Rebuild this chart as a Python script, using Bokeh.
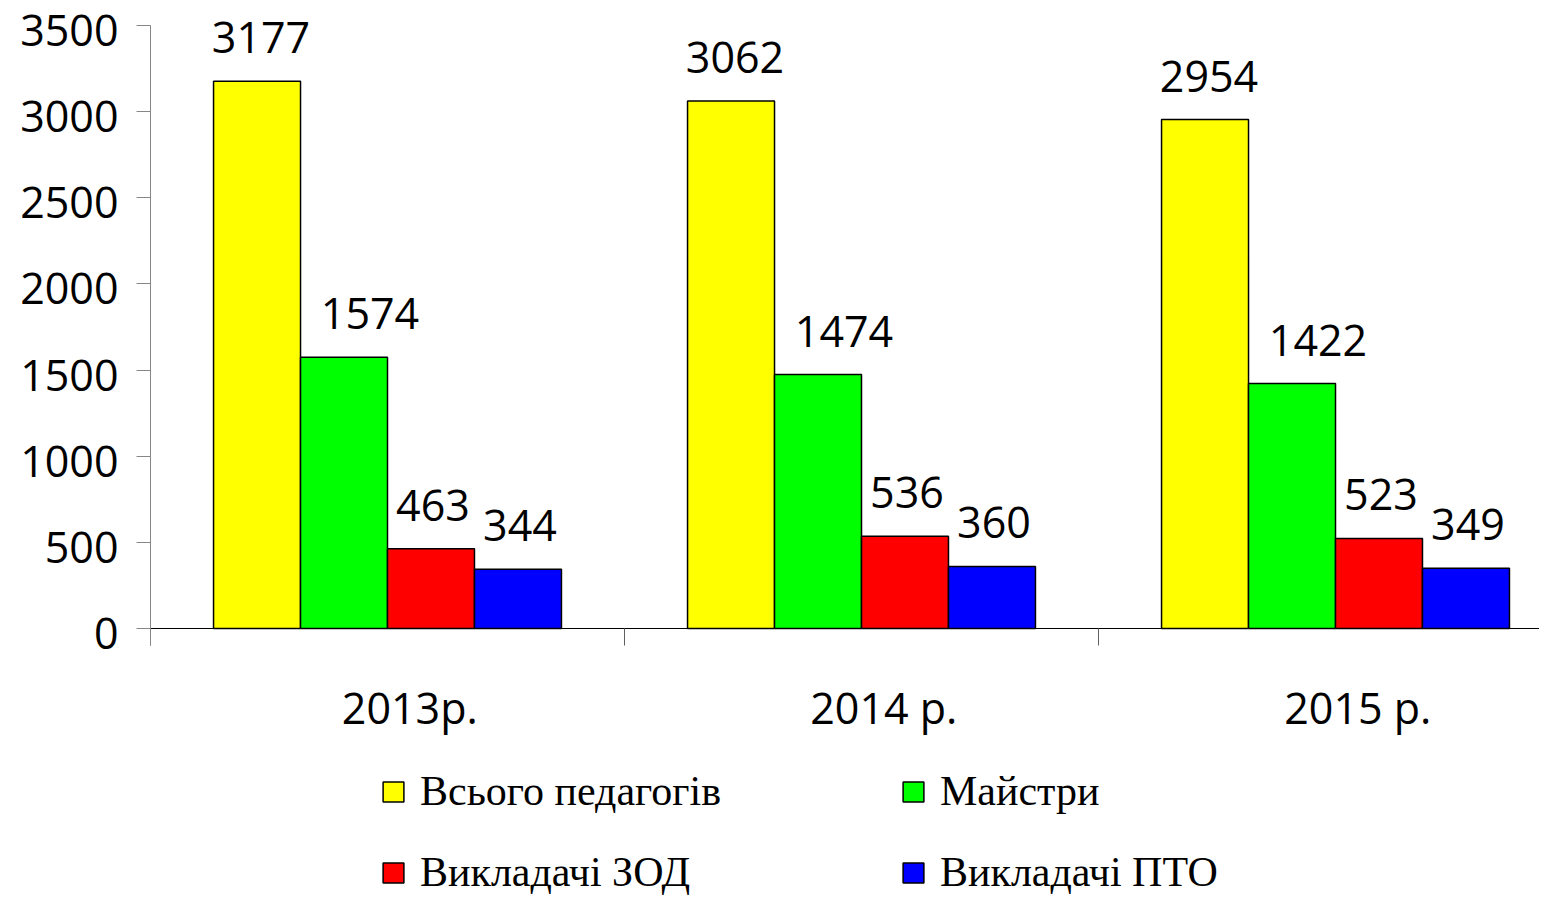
from bokeh.plotting import figure
from bokeh.models import (ColumnDataSource, Range1d, FixedTicker, LinearAxis,
                          LabelSet, Legend, LegendItem)
from bokeh.core.properties import value
from bokeh.embed import file_html
from bokeh.resources import INLINE

# ---- data ----
years = ["2013р.", "2014 р.", "2015 р."]
series_names = ["Всього педагогів", "Майстри", "Викладачі ЗОД", "Викладачі ПТО"]
total_teachers = [3177, 3062, 2954]
masters = [1574, 1474, 1422]
zod_teachers = [463, 536, 523]
pto_teachers = [344, 360, 349]
y_ticks = [0, 500, 1000, 1500, 2000, 2500, 3000, 3500]

colors = ["#FFFF00", "#00FF00", "#FF0000", "#0000FF"]
series = [total_teachers, masters, zod_teachers, pto_teachers]
label_dx = [4, 26, 2, 2]          # horizontal nudge of value labels (px)

# ---- layout geometry (pixels) ----
W, H = 1539, 896
AXIS_X = 150                      # pixel column of the value axis
TOP_Y = 25                        # pixel row of the top tick
BASE_Y = 628                      # pixel row of value 0
cat_px = 474.0
ytop_tick = y_ticks[-1]
px_per_unit = (BASE_Y - TOP_Y) / ytop_tick
ymax = ytop_tick + TOP_Y / px_per_unit
ymin = -(H - BASE_Y) / px_per_unit
xmin = -AXIS_X / cat_px
xmax = (W - AXIS_X) / cat_px

p = figure(width=W, height=H, output_backend="svg", toolbar_location=None,
           x_range=Range1d(xmin, xmax), y_range=Range1d(ymin, ymax),
           min_border_left=0, min_border_right=0, min_border_top=0,
           min_border_bottom=0, x_axis_type=None, y_axis_type=None)
p.outline_line_color = None
p.background_fill_color = "white"

bw = 0.1835
offsets = [-1.5 * bw, -0.5 * bw, 0.5 * bw, 1.5 * bw]
centers = [i + 0.5 for i in range(len(years))]

renderers = []
for vals, col, off, dx in zip(series, colors, offsets, label_dx):
    src = ColumnDataSource(dict(x=[c + off for c in centers], top=vals,
                                lab=[str(v) for v in vals]))
    r = p.vbar(x="x", top="top", width=bw, bottom=0, source=src,
               fill_color=col, line_color="black", line_width=1.5)
    renderers.append(r)
    p.add_layout(LabelSet(x="x", y="top", text="lab", source=src,
                          text_align="center", text_baseline="alphabetic",
                          x_offset=dx, y_offset=28, text_font=value("Open Sans"),
                          text_font_size=value("43px"), text_color="black"))

# y axis (drawn at x = 0 inside the frame)
ya = LinearAxis(ticker=FixedTicker(ticks=y_ticks), fixed_location=0)
ya.bounds = (-17 / px_per_unit, ytop_tick)
ya.axis_line_color = "#868686"
ya.major_tick_line_color = "#868686"
ya.major_tick_out = 14
ya.major_tick_in = 0
ya.minor_tick_line_color = None
ya.major_label_overrides = {t: "" for t in y_ticks}
ya.major_label_text_font_size = "0px"
p.add_layout(ya, "left")

ysrc = ColumnDataSource(dict(x=[0] * len(y_ticks), y=y_ticks,
                             lab=[str(t) for t in y_ticks]))
p.add_layout(LabelSet(x="x", y="y", text="lab", source=ysrc,
                      text_align="right", text_baseline="middle",
                      x_offset=-32, y_offset=-5, text_font=value("Open Sans"),
                      text_font_size=value("43px"), text_color="black"))

# x axis: baseline with category separators
ax1 = LinearAxis(ticker=FixedTicker(ticks=[0, 1, 2, 3]), fixed_location=0)
ax1.bounds = (0, xmax)
ax1.axis_line_color = "black"
ax1.axis_line_width = 1.2
ax1.major_tick_line_color = "#606060"
ax1.major_tick_out = 17
ax1.major_tick_in = 0
ax1.minor_tick_line_color = None
ax1.major_label_text_font_size = "0px"
ax1.major_label_overrides = {0: "", 1: "", 2: "", 3: ""}
p.add_layout(ax1, "below")

# x axis: category labels
lab_pos = [c + 0.047 for c in centers]
ax2 = LinearAxis(ticker=FixedTicker(ticks=lab_pos), fixed_location=0)
ax2.axis_line_color = None
ax2.major_tick_line_color = None
ax2.major_tick_out = 0
ax2.major_tick_in = 0
ax2.minor_tick_line_color = None
ax2.major_label_overrides = {pos: y for pos, y in zip(lab_pos, years)}
ax2.major_label_text_font = "Open Sans"
ax2.major_label_text_font_size = "43px"
ax2.major_label_text_color = "black"
ax2.major_label_standoff = 49
p.add_layout(ax2, "below")


def make_legend(idx, x, y):
    lg = Legend(items=[LegendItem(label=series_names[i], renderers=[renderers[i]])
                       for i in idx], location=(x, y))
    lg.border_line_color = None
    lg.background_fill_alpha = 0
    lg.padding = 0
    lg.margin = 0
    lg.spacing = 33
    lg.glyph_width = 26
    lg.glyph_height = 25
    lg.label_standoff = 14
    lg.label_text_font = "Liberation Serif"
    lg.label_text_font_size = "42px"
    lg.label_text_color = "black"
    lg.label_text_baseline = "middle"
    return lg


p.add_layout(make_legend([0, 2], 380, 0))
p.add_layout(make_legend([1, 3], 900, 0))

open("out.html", "w").write(file_html(p, INLINE))
